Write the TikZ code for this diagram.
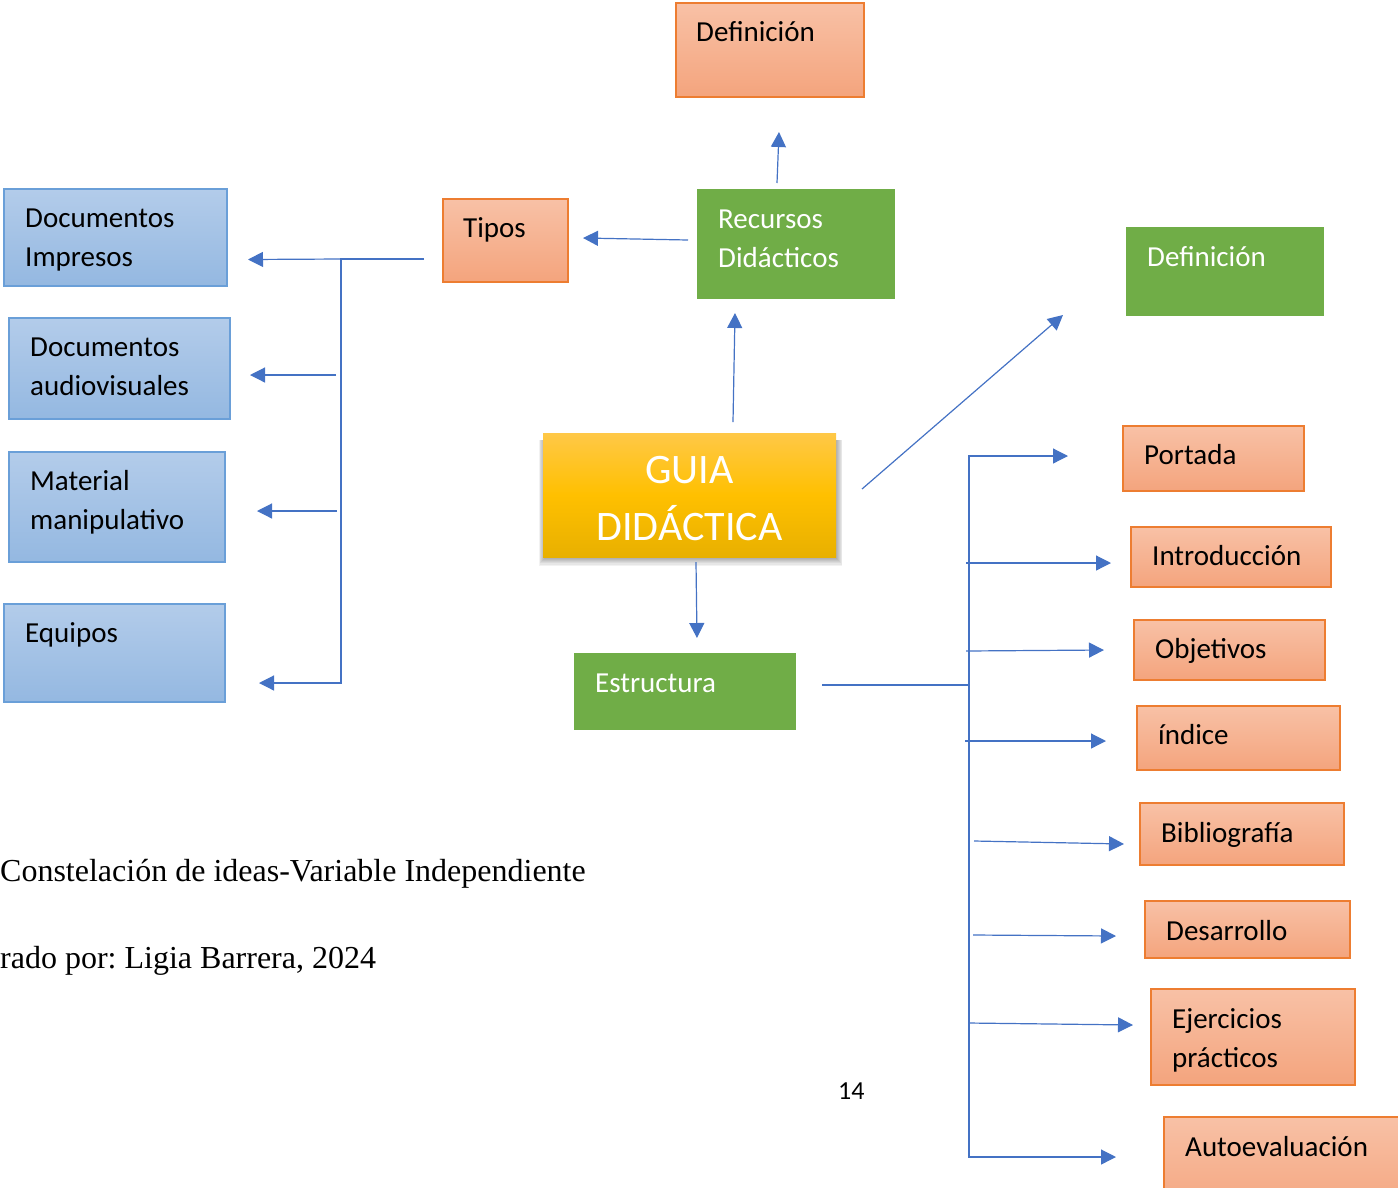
\documentclass[tikz,border=0pt]{standalone}
\usepackage{fontspec}
\setmainfont{Carlito}
\newfontfamily\serifcap{Liberation Serif}
\usetikzlibrary{arrows.meta,calc}
\definecolor{lineblue}{HTML}{4472C4}
\definecolor{orT}{HTML}{F8C1A6}
\definecolor{orB}{HTML}{F4A47D}
\definecolor{orD}{HTML}{ED7D31}
\definecolor{blT}{HTML}{B3CCEA}
\definecolor{blB}{HTML}{94B8E1}
\definecolor{blD}{HTML}{6A9FD8}
\definecolor{grF}{HTML}{70AD47}
\definecolor{goT}{HTML}{FFC847}
\definecolor{goM}{HTML}{FFC000}
\definecolor{goB}{HTML}{E8B000}
\frenchspacing
\tikzset{
  box/.style={line width=1.3pt, anchor=north west, inner sep=0pt, outer sep=0pt},
  orangebox/.style={box, draw=orD, top color=orT, bottom color=orB},
  bluebox/.style={box, draw=blD, top color=blT, bottom color=blB},
  greenbox/.style={box, draw=grF, fill=grF},
  lbl/.style={anchor=north west, xshift=21pt, yshift=-10.5pt, inner sep=0pt, align=left, font=\fontsize{29}{39}\selectfont},
  wlbl/.style={lbl, text=white},
  conn/.style={draw=lineblue, line width=1.2pt},
  arr/.style={conn, -{Triangle[length=15pt,width=15pt]}}
}
\begin{document}
\begin{tikzpicture}[x=1pt,y=-1pt]
\useasboundingbox (0,0) rectangle (1398,1187);
\clip (0,0) rectangle (1398,1187);

% soft shadow of the central box
\foreach \k in {0,...,6}{
  \fill[black, opacity=0.05] ({544-\k*0.9},{440}) rectangle ({837+\k*0.9},{559+\k*1.1});
}

% central box
\node[box, top color=goT, bottom color=goB, middle color=goM,
      minimum width=293pt, minimum height=124pt,
      label={[anchor=north, yshift=-10pt, inner sep=0pt, align=center, text=white, font=\fontsize{42}{57}\selectfont]north:\strut GUIA\\DIDÁCTICA}]
      (guia) at (543,433) {};

% top / green nodes
\node[orangebox, minimum width=188pt, minimum height=94pt, label={[lbl, xshift=-1pt]north west:\strut Definición}] (def1) at (676,3) {};
\node[greenbox, minimum width=196pt, minimum height=108pt, label={[wlbl, xshift=-1pt]north west:\strut Recursos\\Didácticos}] (rec) at (698,190) {};
\node[orangebox, minimum width=125pt, minimum height=83pt, label={[lbl, xshift=-1pt]north west:\strut Tipos}] (tipos) at (443,199) {};
\node[greenbox, minimum width=196pt, minimum height=87pt, label={[wlbl, xshift=-1pt]north west:\strut Definición}] (def2) at (1127,228) {};
\node[greenbox, minimum width=220pt, minimum height=75pt, label={[wlbl, xshift=-1pt]north west:\strut Estructura}] (estr) at (575,654) {};

% left blue nodes
\node[bluebox, minimum width=223pt, minimum height=97pt, label={[lbl]north west:\strut Documentos\\Impresos}] (docimp) at (4,189) {};
\node[bluebox, minimum width=221pt, minimum height=101pt, label={[lbl]north west:\strut Documentos\\audiovisuales}] (docav) at (9,318) {};
\node[bluebox, minimum width=216pt, minimum height=110pt, label={[lbl]north west:\strut Material\\manipulativo}] (mat) at (9,452) {};
\node[bluebox, minimum width=221pt, minimum height=98pt, label={[lbl]north west:\strut Equipos}] (equ) at (4,604) {};

% right orange nodes
\node[orangebox, minimum width=181pt, minimum height=65pt, label={[lbl]north west:\strut Portada}] (portada) at (1123,426) {};
\node[orangebox, minimum width=200pt, minimum height=60pt, label={[lbl]north west:\strut Introducción}] (intro) at (1131,527) {};
\node[orangebox, minimum width=191pt, minimum height=60pt, label={[lbl]north west:\strut Objetivos}] (obj) at (1134,620) {};
\node[orangebox, minimum width=203pt, minimum height=64pt, label={[lbl]north west:\strut índice}] (indice) at (1137,706) {};
\node[orangebox, minimum width=204pt, minimum height=62pt, label={[lbl, yshift=-1pt]north west:\strut Bibliografía}] (biblio) at (1140,803) {};
\node[orangebox, minimum width=205pt, minimum height=57pt, label={[lbl, yshift=-1pt]north west:\strut Desarrollo}] (desarr) at (1145,901) {};
\node[orangebox, minimum width=204pt, minimum height=96pt, label={[lbl, yshift=-1pt]north west:\strut Ejercicios\\prácticos}] (ejer) at (1151,989) {};
\node[orangebox, minimum width=250pt, minimum height=100pt, label={[lbl, yshift=-1pt]north west:\strut Autoevaluación}] (autoe) at (1164,1117) {};

% captions
\node[anchor=base west, inner sep=0pt, font=\serifcap\fontsize{32}{38}\selectfont] (cap1) at (0,881) {Constelación de ideas-Variable Independiente};
\node[anchor=base west, inner sep=0pt, font=\serifcap\fontsize{32}{38}\selectfont] (cap2) at (0,968) {rado por: Ligia Barrera, 2024};
\node[anchor=base west, inner sep=0pt, font=\fontsize{26}{30}\selectfont] (pg) at (838,1099) {14};

% junction coordinates
\coordinate (lj) at (341,259);
\coordinate (lb) at (341,683);
\coordinate (lav) at (336,375);
\coordinate (lmat) at (337,511);
\coordinate (rt) at (969,456);
\coordinate (rm) at (969,685);
\coordinate (rb) at (969,1157);
\coordinate (s1) at (966,563);
\coordinate (s2) at (966,651);
\coordinate (s3) at (965,741);
\coordinate (s4) at (974,841);
\coordinate (s5) at (973,935);
\coordinate (s6) at (968,1023);

% connectors: upper part
\draw[arr] ($(rec.north)+(-19,-7)$) -- ($(def1.south)+(9,35)$);
\draw[arr] ($(rec.west)+(-10,-4)$) -- ($(tipos.east)+(15,-2.5)$);
\draw[arr] ($(guia.north)+(43.5,-11)$) -- ($(rec.south)+(-61,15)$);
\draw[arr] ($(guia.east)+(26,-6)$) -- ($(def2.south west)+(-64,0)$);
\draw[arr] ($(guia.south)+(6.5,5)$) -- ($(estr.north)+(12,-16)$);

% left bracket
\draw[arr] ($(tipos.west)+(-19,18.5)$) -- (lj) -- (lb) -- ($(equ.east)+(34,30)$);
\draw[arr] (lj) -- ($(docimp.east)+(21,22)$);
\draw[arr] (lav) -- ($(docav.east)+(20,6.5)$);
\draw[arr] (lmat) -- ($(mat.east)+(32,4)$);

% right bracket
\draw[conn] ($(estr.east)+(27,-6.5)$) -- (rm);
\draw[arr] (rm) -- (rt) -- ($(portada.west)+(-55,-2.5)$);
\draw[arr] (rm) -- (rb) -- ($(autoe.west)+(-48,-10)$);
\draw[arr] (s1) -- ($(intro.west)+(-20,6)$);
\draw[arr] (s2) -- ($(obj.west)+(-30,0)$);
\draw[arr] (s3) -- ($(indice.west)+(-31,3)$);
\draw[arr] (s4) -- ($(biblio.west)+(-16,10)$);
\draw[arr] (s5) -- ($(desarr.west)+(-29,6.5)$);
\draw[arr] (s6) -- ($(ejer.west)+(-18,-12)$);
\end{tikzpicture}
\end{document}
